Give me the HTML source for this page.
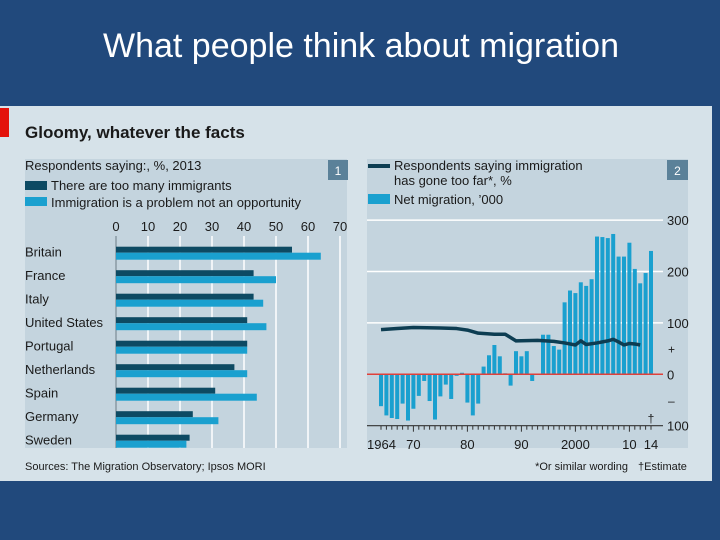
<!DOCTYPE html>
<html><head><meta charset="utf-8"><style>
body{margin:0;width:720px;height:540px;background:#21497c;overflow:hidden;font-family:"Liberation Sans",sans-serif}
svg{display:block}
</style></head><body>
<svg width="720" height="540" viewBox="0 0 720 540">
<text x="361" y="57" text-anchor="middle" font-size="34" fill="#fff">What people think about migration</text>
<rect x="0" y="106" width="712" height="375" fill="#d6e2e9"/>
<rect x="0" y="108" width="9" height="29" fill="#e3120b"/>
<text x="25" y="138" font-size="17" font-weight="bold" fill="#1a1a1a">Gloomy, whatever the facts</text>
<rect x="25" y="159" width="322" height="289" fill="#c4d4de"/>
<rect x="367" y="159" width="321" height="289" fill="#c4d4de"/>
<text x="25" y="170" font-size="13" fill="#1a1a1a">Respondents saying:, %, 2013</text>
<rect x="328" y="160" width="20" height="20" fill="#5b8199"/>
<text x="338" y="175" font-size="12" fill="#fff" text-anchor="middle">1</text>
<rect x="25" y="181" width="22" height="9" fill="#0d4a63"/>
<text x="51" y="190" font-size="13" fill="#1a1a1a">There are too many immigrants</text>
<rect x="25" y="197" width="22" height="9" fill="#1aa0cf"/>
<text x="51" y="207" font-size="13" fill="#1a1a1a">Immigration is a problem not an opportunity</text>
<g id="left"></g>
<rect x="667" y="160" width="21" height="20" fill="#5b8199"/>
<text x="677.5" y="175" font-size="12" fill="#fff" text-anchor="middle">2</text>
<rect x="368" y="164" width="22" height="4" fill="#0d3d52"/>
<text x="394" y="170" font-size="13" fill="#1a1a1a">Respondents saying immigration</text>
<text x="394" y="185" font-size="13" fill="#1a1a1a">has gone too far*, %</text>
<rect x="368" y="194" width="22" height="10" fill="#1aa0cf"/>
<text x="394" y="204" font-size="13" fill="#1a1a1a">Net migration, ’000</text>
<g id="right"></g>
<text x="25" y="470" font-size="11" fill="#1a1a1a">Sources: The Migration Observatory; Ipsos MORI</text>
<text x="628" y="470" font-size="11" fill="#1a1a1a" text-anchor="end">*Or similar wording</text>
<text x="638" y="470" font-size="11" fill="#1a1a1a">†Estimate</text>
</svg>
<script>
const countries=["Britain","France","Italy","United States","Portugal","Netherlands","Spain","Germany","Sweden"];
const tooMany=[55,43,43,41,41,37,31,24,23];
const problem=[64,50,46,47,41,41,44,32,22];
const leftTicks=[0,10,20,30,40,50,60,70];
const years=[];for(let y=1964;y<=2014;y++)years.push(y);
const netMigration=[-62,-80,-85,-87,-57,-90,-67,-42,-13,-52,-88,-43,-20,-48,-3,3,-55,-80,-57,15,37,57,35,2,-22,45,35,45,-13,0,77,77,55,48,140,163,158,179,172,185,268,267,265,273,229,229,256,205,177,197,240];
const lineYears=[1964,1967,1970,1975,1978,1980,1982,1985,1987,1989,1993,1996,1998,2000,2001,2002,2004,2006,2007,2008,2009,2010,2011,2012];
const tooFar=[87,89,91,90,89,86,80,78,78,65,66,64,61,57,65,58,61,65,68,63,57,60,59,57];
const rightTicks=[300,200,100,0,-100];
const rightTickLabels=["300","200","100","0","100"];
const xTickYears=[1964,1970,1980,1990,2000,2010,2014];
const xTickLabels=["1964","70","80","90","2000","10","14"];

const NS="http://www.w3.org/2000/svg";
function mk(p,t,a){const e=document.createElementNS(NS,t);for(const k in a)e.setAttribute(k,a[k]);p.appendChild(e);return e;}
const L=document.getElementById('left');
const lx=v=>116+v*3.2;
const rowY=i=>246.7+i*23.5;
leftTicks.forEach(t=>{
  const g=mk(L,'line',{x1:lx(t),x2:lx(t),y1:236,y2:448,stroke:t===0?'#8a99a3':'#fff','stroke-width':1.5});
  
  
  const tx=mk(L,'text',{x:lx(t),y:231,'font-size':13,'text-anchor':'middle',fill:'#1a1a1a'});tx.textContent=t;
  
  
});
countries.forEach((c,i)=>{
  const y=rowY(i);
  const lab=mk(L,'text',{x:25,y:y+10,'font-size':13,fill:'#1a1a1a'});lab.textContent=c;
  
  
  const b1=mk(L,'rect',{x:lx(0),y:y,width:lx(tooMany[i])-lx(0),height:6,fill:'#0d4a63'});
  
  
  const b2=mk(L,'rect',{x:lx(0),y:y+6,width:lx(problem[i])-lx(0),height:7,fill:'#1aa0cf'});
  
  
});
const R=document.getElementById('right');
const rx=y=>381+(y-1964)*5.4;
const ry=v=>374.3-v*0.514;
rightTicks.slice(0,3).forEach(t=>{
  const g=mk(R,'line',{x1:367,x2:663,y1:ry(t),y2:ry(t),stroke:'#fff','stroke-width':1.5});
  
  
});
rightTicks.forEach((t,i)=>{
  const tx=mk(R,'text',{x:667,y:ry(t)+5,'font-size':13,fill:'#1a1a1a'});tx.textContent=rightTickLabels[i];
  
  
});
[50,-50].forEach((t,i)=>{
  const tx=mk(R,'text',{x:668,y:ry(t)+5,'font-size':12,fill:'#1a1a1a'});tx.textContent=i?'–':'+';
  
  
});
netMigration.forEach((v,i)=>{
  const x=rx(years[i]);
  const r=mk(R,'rect',{x:x-2,y:Math.min(ry(v),ry(0)),width:4,height:Math.abs(ry(v)-ry(0)),fill:'#1aa0cf'});
  
  
});
const zl=mk(R,'line',{x1:367,x2:663,y1:ry(0),y2:ry(0),stroke:'#e0403a','stroke-width':1.5});


const ax=mk(R,'line',{x1:367,x2:663,y1:ry(-100),y2:ry(-100),stroke:'#333','stroke-width':1.2});


years.forEach(y=>{
  const maj=xTickYears.includes(y)&&y!==1964&&y!==2014;
  const t=mk(R,'line',{x1:rx(y),x2:rx(y),y1:ry(-100),y2:ry(-100)+(maj?6:4),stroke:'#333','stroke-width':1});
  
  
});
xTickYears.forEach((y,i)=>{
  const tx=mk(R,'text',{x:i===0?367:rx(y),y:449,'font-size':13,'text-anchor':i===0?'start':'middle',fill:'#1a1a1a'});tx.textContent=xTickLabels[i];
  
  
});
const dg=mk(R,'text',{x:rx(2014),y:ry(-100)-3,'font-size':12,'text-anchor':'middle',fill:'#1a1a1a'});dg.textContent='†';


const pts=lineYears.map((y,i)=>rx(y)+','+ry(tooFar[i])).join(' ');
const pl=mk(R,'polyline',{points:pts,fill:'none',stroke:'#0d3d52','stroke-width':3.5,'stroke-linejoin':'round'});


</script>
</body></html>
